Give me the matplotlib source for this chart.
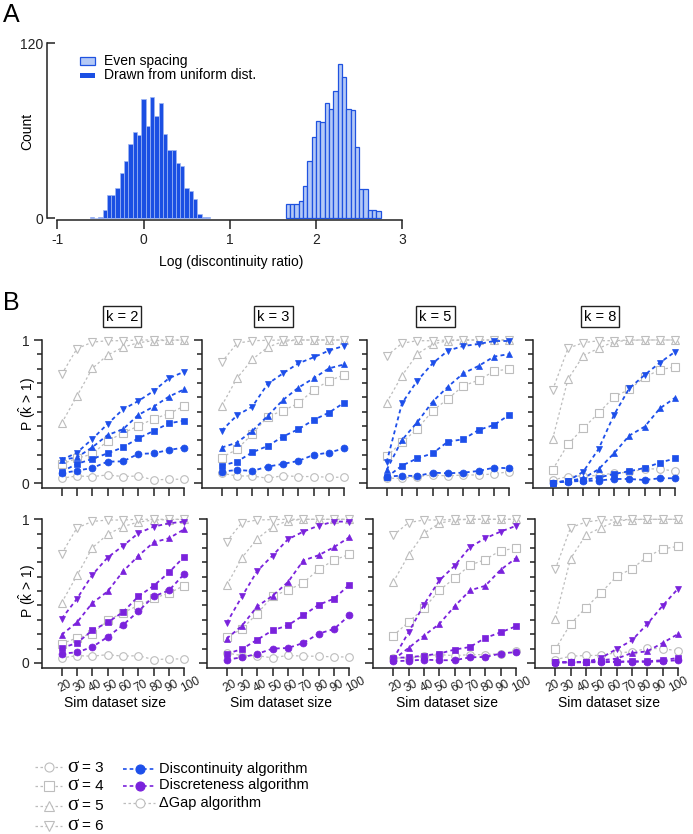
import matplotlib
matplotlib.use('Agg')
import matplotlib.pyplot as plt
import matplotlib.transforms as mtransforms
from matplotlib.lines import Line2D
from matplotlib.patches import Rectangle
import numpy as np

plt.rcParams['font.family'] = ['Liberation Sans', 'DejaVu Sans']
plt.rcParams['mathtext.fontset'] = 'custom'
plt.rcParams['mathtext.rm'] = 'Liberation Sans'
plt.rcParams['mathtext.it'] = 'Liberation Sans:italic'
plt.rcParams['axes.unicode_minus'] = False

# ---------------- Panel A data ----------------
uniform_bin_centers = [-0.60, -0.55, -0.50, -0.45, -0.40, -0.35, -0.30, -0.25, -0.20, -0.15,
                       -0.10, -0.05, 0.00, 0.05, 0.10, 0.15, 0.20, 0.25, 0.30, 0.35,
                       0.40, 0.45, 0.50, 0.55, 0.60, 0.65, 0.70, 0.75]
uniform_counts = [1, 0, 1, 6, 16, 16, 21, 31, 39, 51,
                  59, 57, 82, 63, 83, 70, 79, 58, 47, 47,
                  38, 36, 21, 19, 13, 3, 1, 1]
even_bin_centers = [1.675, 1.725, 1.775, 1.825, 1.875, 1.925, 1.975, 2.025, 2.075, 2.125, 2.175,
                    2.225, 2.275, 2.325, 2.375, 2.425, 2.475, 2.525, 2.575, 2.625, 2.675, 2.725]
even_counts = [10, 10, 10, 12, 22, 39, 56, 67, 66, 79, 75,
               87, 106, 97, 75, 74, 49, 20, 20, 6, 6, 5]
bin_width = 0.05

# ---------------- Panel B data ----------------
sizes = [20, 30, 40, 50, 60, 70, 80, 90, 100]
size_labels = ['20', '30', '40', '50', '60', '70', '80', '90', '100']
k_values = [2, 3, 5, 8]
sigma_values = [3, 4, 5, 6]

# rows: sigma = 3, 4, 5, 6
discontinuity_k2 = [[0.070, 0.088, 0.107, 0.151, 0.153, 0.205, 0.209, 0.233, 0.249],
                    [0.081, 0.135, 0.170, 0.209, 0.251, 0.314, 0.365, 0.419, 0.437],
                    [0.163, 0.181, 0.251, 0.337, 0.377, 0.477, 0.535, 0.605, 0.656],
                    [0.163, 0.214, 0.309, 0.414, 0.516, 0.574, 0.644, 0.733, 0.779]]
discontinuity_k3 = [[0.081, 0.093, 0.086, 0.116, 0.135, 0.156, 0.198, 0.214, 0.244],
                    [0.123, 0.151, 0.216, 0.260, 0.326, 0.377, 0.442, 0.493, 0.563],
                    [0.249, 0.284, 0.365, 0.470, 0.581, 0.667, 0.733, 0.802, 0.830],
                    [0.367, 0.474, 0.535, 0.693, 0.767, 0.837, 0.879, 0.926, 0.960]]
discontinuity_k5 = [[0.047, 0.053, 0.051, 0.074, 0.070, 0.074, 0.086, 0.109, 0.105],
                    [0.042, 0.123, 0.174, 0.209, 0.291, 0.307, 0.372, 0.407, 0.477],
                    [0.093, 0.302, 0.426, 0.570, 0.674, 0.767, 0.819, 0.884, 0.902],
                    [0.147, 0.558, 0.716, 0.837, 0.926, 0.958, 0.972, 0.993, 0.993]]
discontinuity_k8 = [[0.005, 0.012, 0.016, 0.019, 0.030, 0.030, 0.023, 0.035, 0.035],
                    [0.005, 0.016, 0.023, 0.040, 0.065, 0.084, 0.107, 0.144, 0.174],
                    [0.005, 0.016, 0.035, 0.098, 0.209, 0.333, 0.395, 0.523, 0.598],
                    [0.005, 0.016, 0.081, 0.240, 0.477, 0.663, 0.756, 0.842, 0.919]]

discreteness_k2 = [[0.065, 0.074, 0.111, 0.181, 0.264, 0.359, 0.463, 0.505, 0.620],
                   [0.104, 0.139, 0.227, 0.282, 0.354, 0.463, 0.537, 0.630, 0.741],
                   [0.197, 0.282, 0.417, 0.498, 0.637, 0.745, 0.840, 0.868, 0.931],
                   [0.308, 0.447, 0.613, 0.734, 0.815, 0.903, 0.949, 0.972, 0.984]]
discreteness_k3 = [[0.023, 0.039, 0.063, 0.100, 0.104, 0.139, 0.204, 0.236, 0.331],
                   [0.063, 0.097, 0.162, 0.227, 0.262, 0.331, 0.405, 0.447, 0.544],
                   [0.169, 0.259, 0.394, 0.468, 0.563, 0.713, 0.750, 0.806, 0.875],
                   [0.278, 0.463, 0.641, 0.748, 0.861, 0.914, 0.956, 0.984, 0.984]]
discreteness_k5 = [[0.012, 0.016, 0.023, 0.019, 0.019, 0.039, 0.042, 0.065, 0.076],
                   [0.035, 0.039, 0.051, 0.065, 0.093, 0.111, 0.174, 0.213, 0.255],
                   [0.023, 0.104, 0.190, 0.271, 0.394, 0.505, 0.537, 0.648, 0.729],
                   [0.028, 0.213, 0.405, 0.574, 0.676, 0.806, 0.868, 0.914, 0.954]]
discreteness_k8 = [[0.002, 0.005, 0.005, 0.005, 0.007, 0.009, 0.007, 0.012, 0.019],
                   [0.005, 0.005, 0.007, 0.014, 0.009, 0.012, 0.012, 0.019, 0.035],
                   [0.005, 0.005, 0.005, 0.019, 0.030, 0.069, 0.081, 0.139, 0.201],
                   [0.005, 0.005, 0.007, 0.035, 0.097, 0.157, 0.271, 0.398, 0.516]]

delta_gap_k2 = [[0.035, 0.051, 0.047, 0.058, 0.047, 0.051, 0.023, 0.028, 0.028],
                [0.134, 0.174, 0.204, 0.296, 0.350, 0.400, 0.450, 0.486, 0.539],
                [0.419, 0.609, 0.802, 0.895, 0.949, 0.981, 0.995, 0.998, 1.000],
                [0.760, 0.940, 0.985, 0.995, 0.995, 1.000, 1.000, 1.000, 1.000]]
delta_gap_k3 = [[0.070, 0.051, 0.051, 0.035, 0.053, 0.047, 0.047, 0.042, 0.042],
                [0.179, 0.237, 0.344, 0.465, 0.507, 0.558, 0.651, 0.716, 0.756],
                [0.540, 0.733, 0.865, 0.949, 0.990, 1.000, 1.000, 1.000, 1.000],
                [0.844, 0.977, 0.995, 0.998, 1.000, 1.000, 1.000, 1.000, 1.000]]
delta_gap_k5 = [[0.035, 0.035, 0.047, 0.058, 0.051, 0.058, 0.058, 0.065, 0.081],
                [0.190, 0.285, 0.380, 0.505, 0.590, 0.680, 0.720, 0.782, 0.798],
                [0.563, 0.751, 0.902, 0.972, 0.995, 1.000, 1.000, 1.000, 1.000],
                [0.888, 0.977, 0.995, 0.995, 1.000, 1.000, 1.000, 1.000, 1.000]]
delta_gap_k8 = [[0.023, 0.047, 0.052, 0.053, 0.072, 0.076, 0.102, 0.099, 0.085],
                [0.095, 0.272, 0.385, 0.490, 0.603, 0.655, 0.740, 0.793, 0.812],
                [0.309, 0.726, 0.891, 0.942, 0.988, 0.998, 1.000, 1.000, 1.000],
                [0.651, 0.942, 0.981, 0.995, 0.995, 1.000, 1.000, 1.000, 1.000]]

discontinuity = [discontinuity_k2, discontinuity_k3, discontinuity_k5, discontinuity_k8]
discreteness = [discreteness_k2, discreteness_k3, discreteness_k5, discreteness_k8]
delta_gap = [delta_gap_k2, delta_gap_k3, delta_gap_k5, delta_gap_k8]

# ---------------- styling ----------------
BLUE = '#1d4fea'
PURPLE = '#7a22dc'
GRAY = '#bdbdbd'
AXC = '#222222'
DARK_BAR = '#1b4fe3'
LIGHT_BAR = '#b4c9f6'
markers = ['o', 's', '^', 'v']

W, H = 693, 834
fig = plt.figure(figsize=(W / 100, H / 100), dpi=100)


def px_axes(left, top, right, bottom):
    return fig.add_axes([left / W, 1 - bottom / H, (right - left) / W, (bottom - top) / H])


# overlay in pixel coordinates for labels / legend keys
over = fig.add_axes([0, 0, 1, 1], zorder=10)
over.set_xlim(0, W)
over.set_ylim(H, 0)
over.axis('off')
over.patch.set_alpha(0)

# ---------------- Panel A ----------------
axA = px_axes(47, 43.3, 402.3, 220)
axA.bar(uniform_bin_centers, uniform_counts, width=bin_width, color=DARK_BAR,
        edgecolor='#9fb6f3', linewidth=0.5)
axA.bar(even_bin_centers, even_counts, width=bin_width, color=LIGHT_BAR,
        edgecolor='#1f52e0', linewidth=0.9)
axA.set_xlim(-1.119, 3)
axA.set_ylim(-1.17, 120)
for s in ['top', 'right']:
    axA.spines[s].set_visible(False)
axA.spines['left'].set_bounds(0, 120)
axA.spines['bottom'].set_bounds(-1, 3)
for s in ['left', 'bottom']:
    axA.spines[s].set_linewidth(1.1)
    axA.spines[s].set_color(AXC)
axA.set_xticks([-1, 0, 1, 2, 3])
axA.set_yticks([0, 120])
axA.tick_params(axis='x', direction='out', length=6.5, width=1.1, labelsize=10, pad=3, colors=AXC)
axA.tick_params(axis='y', direction='in', length=6, width=1.1, labelsize=10, pad=3, colors=AXC)
over.text(231, 262, 'Log (discontinuity ratio)', fontsize=10, ha='center', va='center')
over.text(27, 131, 'Count', fontsize=10, rotation=90, ha='center', va='center')

# legend A
over.add_patch(Rectangle((80, 57), 15, 7.5, facecolor=LIGHT_BAR, edgecolor='#1f52e0', lw=0.9))
over.add_patch(Rectangle((80, 72.5), 15, 5, facecolor=DARK_BAR, edgecolor='none'))
over.text(104, 60.7, 'Even spacing', fontsize=10, va='center', ha='left')
over.text(104, 75.3, 'Drawn from uniform dist.', fontsize=10, va='center', ha='left')

over.text(3, 15, 'A', fontsize=18, va='center', ha='left')
over.text(3, 303, 'B', fontsize=18, va='center', ha='left')

# ---------------- Panel B ----------------
row_tops = [340, 519.3]
row_bottoms = [488, 667.7]
col_lefts = [[41.7, 201.7, 366.7, 532.7], [41.7, 206.7, 373.3, 535.3]]
title_centers = [122, 273.5, 435.5, 600]
AX_W = 142.6
label_shifts = [-3, -3, -3, -8]

for r, (colored, color) in enumerate([(discontinuity, BLUE), (discreteness, PURPLE)]):
    for c in range(4):
        left = col_lefts[r][c]
        ax = px_axes(left, row_tops[r], left + AX_W, row_bottoms[r])
        for i in range(4):
            ax.plot(sizes, delta_gap[c][i], linestyle=(0, (2, 2)), lw=0.9, color=GRAY,
                    marker=markers[i], markersize=5.5, markerfacecolor='white',
                    markeredgecolor=GRAY, markeredgewidth=0.8, clip_on=False, zorder=2)
        for i in range(4):
            ax.plot(sizes, colored[c][i], linestyle=(0, (2.2, 1.8)), lw=1.3, color=color,
                    marker=markers[i], markersize=5, markerfacecolor=color,
                    markeredgecolor=color, markeredgewidth=0.5, clip_on=False, zorder=3)
        ax.set_xlim(7, 100)
        ax.set_ylim(-0.033, 1)
        for s in ['top', 'right']:
            ax.spines[s].set_visible(False)
        for s in ['left', 'bottom']:
            ax.spines[s].set_linewidth(1.1)
            ax.spines[s].set_color(AXC)
        ax.set_xticks(sizes)
        ax.set_xticklabels([])
        ax.set_yticks([0, 1])
        ax.set_yticks(np.arange(0.1, 0.95, 0.1), minor=True)
        ax.tick_params(axis='x', direction='out', length=6, width=1.1, colors=AXC)
        ax.tick_params(axis='y', which='major', direction='out', length=6, width=1.1,
                       labelsize=10, pad=3, colors=AXC)
        ax.tick_params(axis='y', which='minor', direction='out', length=3.5, width=1.1, colors=AXC)
        if c == 0:
            ax.set_yticklabels(['0', '1'])
        else:
            ax.set_yticklabels([])
        if r == 1:
            trans = mtransforms.blended_transform_factory(ax.transData, ax.transAxes) + \
                mtransforms.ScaledTranslation(label_shifts[c] / 100, -21.5 / 100, fig.dpi_scale_trans)
            for sx, sl in zip(sizes, size_labels):
                ax.text(sx, 0, sl, transform=trans, rotation=28, rotation_mode='anchor',
                        ha='left', va='center', fontsize=8.6, color=AXC)
            over.text(left + AX_W / 2 + 2.5, 703, 'Sim dataset size', fontsize=10,
                      ha='center', va='center')
        else:
            over.text(title_centers[c], 316.7, 'k = %d' % k_values[c], fontsize=10.5,
                      ha='center', va='center',
                      bbox=dict(boxstyle='square,pad=0.22', fc='white', ec=AXC, lw=1.0))

for yc in [404, 591]:
    over.text(27, yc, r'P ($\hat{\mathrm{k}}$ > 1)', fontsize=10, rotation=90,
              ha='center', va='center')

# ---------------- bottom legend ----------------
for i, yc in enumerate([767, 786, 806, 826]):
    over.add_line(Line2D([35, 62], [yc, yc], linestyle=(0, (2, 2)), lw=0.9, color=GRAY))
    over.add_line(Line2D([48.5], [yc], marker=markers[i], markersize=6.5,
                         markerfacecolor='white', markeredgecolor=GRAY, markeredgewidth=0.8))
    over.text(67, yc, '\u03c3', fontsize=15, family='Liberation Serif', ha='left', va='center')
    over.text(82, yc + 0.5, '= %d' % sigma_values[i], fontsize=11, ha='left', va='center')

alg_names = ['Discontinuity algorithm', 'Discreteness algorithm', '\u0394Gap algorithm']
alg_colors = [BLUE, PURPLE, GRAY]
for i, yc in enumerate([769, 785.5, 802.5]):
    filled = i < 2
    over.add_line(Line2D([123, 155], [yc, yc], linestyle=(0, (2.2, 1.8)) if filled else (0, (2, 2)),
                         lw=1.2 if filled else 0.9, color=alg_colors[i]))
    over.add_line(Line2D([140], [yc], marker='o', markersize=6.5,
                         markerfacecolor=alg_colors[i] if filled else 'white',
                         markeredgecolor=alg_colors[i], markeredgewidth=0.8))
    over.text(159, yc, alg_names[i], fontsize=10.5, ha='left', va='center')

fig.savefig('out.png', dpi=100)
